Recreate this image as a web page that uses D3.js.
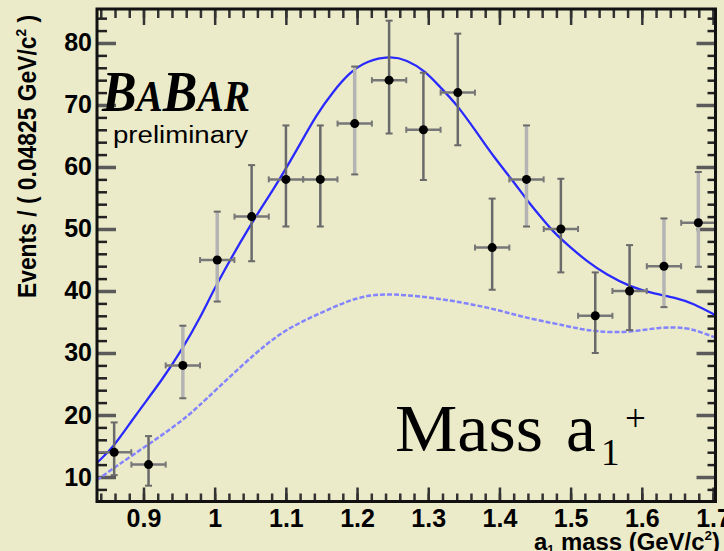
<!DOCTYPE html>
<html>
<head>
<meta charset="utf-8">
<script src="https://cdn.jsdelivr.net/npm/d3@7"></script>
<style>
  body { margin: 0; background: #ebebca; }
  svg { display: block; }
</style>
</head>
<body>
<script>
// bin centres of the a1 mass histogram (GeV/c^2)
var massBins = [0.8588, 0.9071, 0.9553, 1.0036, 1.0519, 1.1001, 1.1484, 1.1967, 1.2450,
                1.2932, 1.3415, 1.3898, 1.4380, 1.4863, 1.5346, 1.5828, 1.6311, 1.6794];
var binHalf = 0.0241;

// events per bin and the (asymmetric) errors
var events  = [14, 12, 28, 45, 52, 58, 58, 67, 74, 66, 72, 47, 58, 50, 36, 40, 44, 51];
var errLow  = [3.7, 3.4, 5.3, 6.7, 7.2, 7.6, 7.6, 8.2, 8.6, 8.1, 8.5, 6.8, 7.6, 7.0, 6.0, 6.3, 6.6, 7.1];
var errHigh = [4.8, 4.6, 6.4, 7.8, 8.3, 8.7, 8.7, 9.2, 9.6, 9.2, 9.5, 7.9, 8.7, 8.1, 7.0, 7.4, 7.7, 8.2];

// total fit curve
var fitMass  = [0.8347, 0.8572, 0.8857, 0.9278, 0.9537, 0.9794, 1.0028, 1.0510, 1.0824, 1.1152,
                1.1433, 1.1666, 1.1901, 1.2135, 1.2463, 1.2697, 1.2954, 1.3165, 1.3400, 1.3681,
                1.3914, 1.4195, 1.4383, 1.4570, 1.4757, 1.4991, 1.5226, 1.5507, 1.5834, 1.6161,
                1.6490, 1.6723, 1.7035];
var fitTotal = [12.3, 14.7, 19.5, 25.9, 30.5, 35.6, 41.2, 50.9, 56.3, 62.7,
                68.5, 72.2, 75.3, 77.1, 77.9, 77.3, 75.5, 72.9, 70.1, 65.6,
                61.7, 57.7, 54.7, 52.1, 49.5, 47.1, 44.8, 42.6, 40.7, 39.6,
                38.9, 38.0, 36.1];

// background component
var bkgMass   = [0.8347, 0.8624, 0.9091, 0.9559, 0.9794, 1.0637, 1.1058, 1.1479, 1.1995, 1.2463,
                 1.3306, 1.4008, 1.4289, 1.4757, 1.5085, 1.5366, 1.5834, 1.6255, 1.6630, 1.6817,
                 1.7035];
var bkgValues = [9.5, 11.8, 15.4, 19.2, 21.6, 30.8, 34.2, 36.4, 39.1, 39.7,
                 38.6, 36.9, 35.9, 34.8, 34.0, 33.4, 33.3, 34.2, 34.1, 33.4,
                 32.5];

// axis ticks
var xTickValues = [0.9, 1.0, 1.1, 1.2, 1.3, 1.4, 1.5, 1.6, 1.7];
var yTickValues = [10, 20, 30, 40, 50, 60, 70, 80];

// bars that came out light grey in the original picture
var lightBars = [2, 3, 7, 12, 16, 17];

var width = 724, height = 551;
var frame = {left: 97, right: 715.5, top: 9, bottom: 501.5};

var svg = d3.select("body").append("svg")
    .attr("width", width)
    .attr("height", height);

svg.append("rect")
    .attr("width", width).attr("height", height)
    .attr("fill", "#ebebca");

var x = d3.scaleLinear().domain([0.8347, 1.7035]).range([frame.left, frame.right]);
var y = d3.scaleLinear().domain([6.05, 85.48]).range([frame.bottom, frame.top]);

// clip for the curves
svg.append("clipPath").attr("id", "plotclip")
  .append("rect")
    .attr("x", frame.left).attr("y", frame.top)
    .attr("width", frame.right - frame.left)
    .attr("height", frame.bottom - frame.top);

/*
* Tick marks on all four sides, pointing into the frame.
*/
function drawTicks() {
    var xMinor = d3.range(42, 86).map(function(i) { return i * 0.02; });
    var yMinor = d3.range(4, 43).map(function(i) { return i * 2; });

    var axes = [
        // bottom
        [d3.axisBottom(x).tickValues(xMinor).tickSize(-8).tickFormat(""), "translate(0," + frame.bottom + ")", "#333", 2.5],
        [d3.axisBottom(x).tickValues(xTickValues).tickSize(-14).tickPadding(8)
            .tickFormat(d3.format("~g")), "translate(0," + frame.bottom + ")", "#333", 2.5],
        // top
        [d3.axisTop(x).tickValues(xMinor).tickSize(-9).tickFormat(""), "translate(0," + frame.top + ")", "#333", 2.5],
        [d3.axisTop(x).tickValues(xTickValues).tickSize(-16).tickFormat(""), "translate(0," + frame.top + ")", "#333", 2.5],
        // left
        [d3.axisLeft(y).tickValues(yMinor).tickSize(-10).tickFormat(""), "translate(" + frame.left + ",0)", "#222", 2.5],
        [d3.axisLeft(y).tickValues(yTickValues).tickSize(-19).tickPadding(5), "translate(" + frame.left + ",0)", "#5a5a5a", 3.5],
        // right
        [d3.axisRight(y).tickValues(yMinor).tickSize(-8).tickFormat(""), "translate(" + frame.right + ",0)", "#222", 2.5],
        [d3.axisRight(y).tickValues(yTickValues).tickSize(-19).tickFormat(""), "translate(" + frame.right + ",0)", "#5a5a5a", 3.5]
    ];

    axes.forEach(function(a) {
        var g = svg.append("g")
            .attr("transform", a[1])
            .call(a[0]);
        g.select(".domain").remove();
        g.selectAll("line")
            .attr("stroke", a[2])
            .attr("stroke-width", a[3]);
        g.selectAll("text")
            .attr("fill", "#000")
            .style("font-family", "'Liberation Sans', Arial, sans-serif")
            .style("font-weight", "bold")
            .style("font-size", "25px");
    });
}
drawTicks();

// smooth line through the read-off points
var line = d3.line()
    .x(function(d) { return x(d[0]); })
    .y(function(d) { return y(d[1]); })
    .curve(d3.curveBasis);

// background component, dashed light blue
svg.append("path")
    .datum(d3.zip(bkgMass, bkgValues))
    .attr("clip-path", "url(#plotclip)")
    .attr("d", line)
    .attr("fill", "none")
    .attr("stroke", "#8484ff")
    .attr("stroke-width", 2.5)
    .attr("stroke-dasharray", "5,2");

// total fit, solid blue
svg.append("path")
    .datum(d3.zip(fitMass, fitTotal))
    .attr("clip-path", "url(#plotclip)")
    .attr("d", line)
    .attr("fill", "none")
    .attr("stroke", "#2a2aff")
    .attr("stroke-width", 2.3);

// data points with error bars
var points = svg.append("g");
massBins.forEach(function(m, i) {
    var cx = x(m), cy = y(events[i]);
    var vcol = lightBars.indexOf(i) >= 0 ? "#b4b4b4" : "#6a6a6a";
    var vw = lightBars.indexOf(i) >= 0 ? 3.5 : 2.5;
    var yTop = y(events[i] + errHigh[i]), yBot = y(events[i] - errLow[i]);
    var xL = x(m - binHalf), xR = x(m + binHalf);

    // horizontal bar + end caps
    points.append("line")
        .attr("x1", xL).attr("x2", xR).attr("y1", cy).attr("y2", cy)
        .attr("stroke", "#777").attr("stroke-width", 2.5);
    [xL, xR].forEach(function(xx) {
        points.append("line")
            .attr("x1", xx).attr("x2", xx).attr("y1", cy - 3).attr("y2", cy + 3)
            .attr("stroke", "#777").attr("stroke-width", 2);
    });

    // vertical bar + end caps
    points.append("line")
        .attr("x1", cx).attr("x2", cx).attr("y1", yTop).attr("y2", yBot)
        .attr("stroke", vcol).attr("stroke-width", vw);
    [yTop, yBot].forEach(function(yy) {
        points.append("line")
            .attr("x1", cx - 3.5).attr("x2", cx + 3.5).attr("y1", yy).attr("y2", yy)
            .attr("stroke", "#6a6a6a").attr("stroke-width", 2);
    });

    points.append("circle")
        .attr("cx", cx).attr("cy", cy).attr("r", 4.5)
        .attr("fill", "#000");
});

// frame
svg.append("rect")
    .attr("x", frame.left).attr("y", frame.top)
    .attr("width", frame.right - frame.left)
    .attr("height", frame.bottom - frame.top)
    .attr("fill", "none")
    .attr("stroke", "#111")
    .attr("stroke-width", 3);

// y axis title
var yTitle = svg.append("text")
    .attr("transform", "translate(36,15) rotate(-90)")
    .attr("text-anchor", "end")
    .attr("textLength", 283)
    .attr("lengthAdjust", "spacingAndGlyphs")
    .style("font-family", "'Liberation Sans', Arial, sans-serif")
    .style("font-weight", "bold")
    .style("font-size", "25px");
yTitle.append("tspan").text("Events / ( 0.04825 GeV/c");
yTitle.append("tspan").attr("dy", -10).style("font-size", "15px").text("2");
yTitle.append("tspan").attr("dy", 10).text(" )");

// x axis title
var xTitle = svg.append("text")
    .attr("x", 720).attr("y", 550)
    .attr("text-anchor", "end")
    .attr("textLength", 186)
    .attr("lengthAdjust", "spacingAndGlyphs")
    .style("font-family", "'Liberation Sans', Arial, sans-serif")
    .style("font-weight", "bold")
    .style("font-size", "23px");
xTitle.append("tspan").text("a");
xTitle.append("tspan").attr("dy", 4).style("font-size", "12px").text("1");
xTitle.append("tspan").attr("dy", -4).text(" mass (GeV/c");
xTitle.append("tspan").attr("dy", -10).style("font-size", "13px").text("2");
xTitle.append("tspan").attr("dy", 10).text(")");

// BaBar logo
var logo = svg.append("text")
    .attr("x", 102).attr("y", 111)
    .attr("textLength", 148)
    .attr("lengthAdjust", "spacingAndGlyphs")
    .style("font-family", "'Liberation Serif', 'Times New Roman', serif")
    .style("font-weight", "bold")
    .style("font-style", "italic");
logo.append("tspan").style("font-size", "58px").text("B");
logo.append("tspan").style("font-size", "44px").text("A");
logo.append("tspan").style("font-size", "58px").text("B");
logo.append("tspan").style("font-size", "44px").text("AR");

svg.append("text")
    .attr("x", 113).attr("y", 143)
    .attr("textLength", 135)
    .attr("lengthAdjust", "spacingAndGlyphs")
    .style("font-family", "'Liberation Sans', Arial, sans-serif")
    .style("font-size", "23px")
    .text("preliminary");

// Mass a1+ label
var serif = "'Liberation Serif', 'Times New Roman', serif";
svg.append("text")
    .attr("x", 395).attr("y", 451)
    .attr("textLength", 148)
    .attr("lengthAdjust", "spacingAndGlyphs")
    .style("font-family", serif).style("font-size", "67px")
    .text("Mass");
svg.append("text")
    .attr("x", 566).attr("y", 451)
    .style("font-family", serif).style("font-size", "67px")
    .text("a");
svg.append("text")
    .attr("x", 601).attr("y", 465)
    .style("font-family", serif).style("font-size", "37px")
    .text("1");
svg.append("text")
    .attr("x", 625).attr("y", 431)
    .style("font-family", serif).style("font-size", "37px")
    .text("+");
</script>
</body>
</html>
